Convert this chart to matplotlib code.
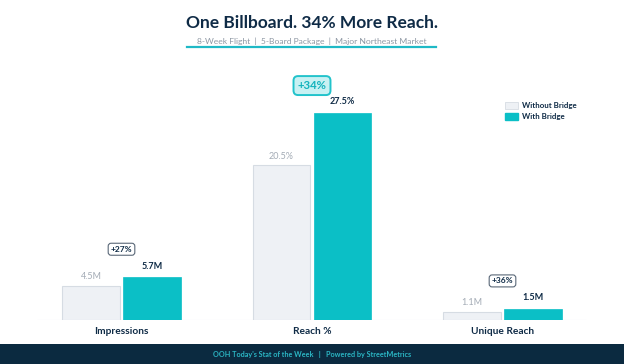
import matplotlib
matplotlib.use("Agg")
import matplotlib.pyplot as plt
from matplotlib.patches import Rectangle, Patch
from matplotlib.lines import Line2D
import numpy as np

plt.rcParams['font.family'] = ['Lato', 'DejaVu Sans']

categories = ["Impressions", "Reach %", "Unique Reach"]
without_bridge = [4.5, 20.5, 1.1]
with_bridge = [5.7, 27.5, 1.5]
without_labels = ["4.5M", "20.5%", "1.1M"]
with_labels = ["5.7M", "27.5%", "1.5M"]
lift_labels = ["+27%", "+34%", "+36%"]
highlight = [False, True, False]

W, H = 624, 364
fig = plt.figure(figsize=(W / 100, H / 100), dpi=100)
fig.patch.set_facecolor("white")

NAVY = "#0f2b46"
TEAL = "#0bbfc6"
GRAY_TXT = "#a3abb5"

# axes: baseline at y=320px, top at y=60px
ax = fig.add_axes([0, 44 / H, 1, 260 / H])
x = np.arange(len(categories))
bw = 0.304
off = 0.16
ax.bar(x - off, without_bridge, bw, color="#eef1f5", edgecolor="#d6dce3", linewidth=0.8, zorder=2)
ax.bar(x + off, with_bridge, bw, color=TEAL, edgecolor=TEAL, linewidth=0.5, zorder=2)
ax.set_xlim(-121.5 / 190.5, (W - 121.5) / 190.5)
ax.set_ylim(0, 260 / 7.54)
ax.axis("off")
ax.axhline(0, xmin=38 / W, xmax=585 / W, color="#e6e9ed", linewidth=0.8, zorder=1)

for i in range(len(categories)):
    ax.annotate(without_labels[i], (x[i] - off, without_bridge[i]), xytext=(0, 3.5),
                textcoords="offset points", ha="center", va="bottom",
                fontsize=6.5, color=GRAY_TXT)
    ax.annotate(with_labels[i], (x[i] + off, with_bridge[i]), xytext=(0, 4.5),
                textcoords="offset points", ha="center", va="bottom",
                fontsize=6.5, color=NAVY, fontweight="bold")
    if highlight[i]:
        ax.annotate(lift_labels[i], (x[i], with_bridge[i]), xytext=(0, 19.5),
                    textcoords="offset points", ha="center", va="center",
                    fontsize=8.2, color="#14b3bd", fontweight="bold",
                    bbox=dict(boxstyle="round,pad=0.35,rounding_size=0.4",
                              fc="#c8f1f3", ec="#22c3cb", lw=1.4))
    else:
        ax.annotate(lift_labels[i], (x[i], with_bridge[i]), xytext=(0, 20),
                    textcoords="offset points", ha="center", va="center",
                    fontsize=6, color=NAVY, fontweight="bold",
                    bbox=dict(boxstyle="round,pad=0.3,rounding_size=0.35",
                              fc="white", ec="#5a6878", lw=0.8))
    ax.annotate(categories[i], (x[i], 0), xytext=(0, -8),
                textcoords="offset points", ha="center", va="center",
                fontsize=7.3, color=NAVY, fontweight="bold")

# legend
handles = [Patch(facecolor="#eef1f5", edgecolor="#d6dce3", linewidth=0.6, label="Without Bridge"),
           Patch(facecolor=TEAL, edgecolor=TEAL, label="With Bridge")]
leg = fig.legend(handles=handles, loc="upper left", bbox_to_anchor=(505 / W, 1 - 102 / H),
                 frameon=False, fontsize=5.7, handlelength=1.6, handleheight=1.0,
                 labelspacing=0.45, handletextpad=0.6, borderpad=0, borderaxespad=0)
for t in leg.get_texts():
    t.set_color(NAVY)
    t.set_fontweight("bold")

# title
fig.text(311.5 / W, 1 - 23 / H, "One Billboard. 34% More Reach.", ha="center", va="center",
         fontsize=12.5, fontweight="bold", color=NAVY)
fig.text(312 / W, 1 - 41.5 / H, "8-Week Flight  |  5-Board Package  |  Major Northeast Market",
         ha="center", va="center", fontsize=6.1, color="#8d97a3")
fig.add_artist(Line2D([187 / W, 436 / W], [1 - 46.5 / H, 1 - 46.5 / H], transform=fig.transFigure,
                      color="#1fb9c6", linewidth=1.6))

# footer
fig.add_artist(Rectangle((0, 0), 1, 20 / H, transform=fig.transFigure, facecolor="#0b2a40",
                         edgecolor="none", zorder=0))
fig.text(312 / W, 10 / H, "OOH Today's Stat of the Week   |   Powered by StreetMetrics",
         ha="center", va="center", fontsize=5.2, color="#2bb6c4", fontweight="bold")

fig.savefig("out.png", dpi=100, facecolor="white")
